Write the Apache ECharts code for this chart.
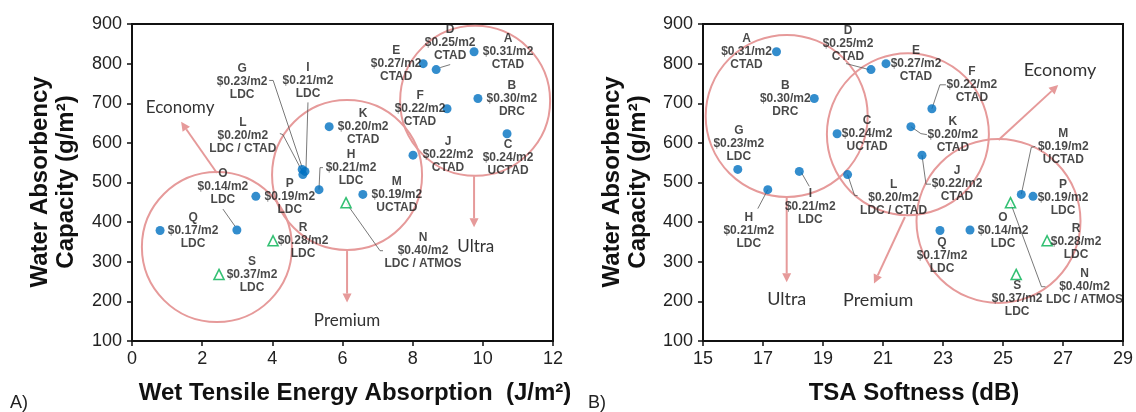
<!DOCTYPE html>
<html>
<head>
<meta charset="utf-8">
<script src="https://cdn.jsdelivr.net/npm/echarts@6/dist/echarts.min.js"></script>
<style>
  html, body { margin: 0; padding: 0; background: #fff; }
  #chart { width: 1136px; height: 412px; }
</style>
</head>
<body>
<div id="chart"></div>
<script>
// Tissue samples: cost, process, water absorbency, wet TEA and TSA softness
const samples     = ['A', 'B', 'C', 'D', 'E', 'F', 'G', 'H', 'I', 'J', 'K', 'L', 'M', 'N', 'O', 'P', 'Q', 'R', 'S'];
const pricePerM2  = [0.31, 0.30, 0.24, 0.25, 0.27, 0.22, 0.23, 0.21, 0.21, 0.22, 0.20, 0.20, 0.19, 0.40, 0.14, 0.19, 0.17, 0.28, 0.37];
const processType = ['CTAD', 'DRC', 'UCTAD', 'CTAD', 'CTAD', 'CTAD', 'LDC', 'LDC', 'LDC', 'CTAD', 'CTAD', 'LDC / CTAD', 'UCTAD', 'LDC / ATMOS', 'LDC', 'LDC', 'LDC', 'LDC', 'LDC'];
const absorbency  = [830, 712, 623, 785, 800, 686, 533, 482, 528, 569, 641, 520, 470, 449, 380, 465, 379, 353, 268];
const wetTEA      = [9.75, 9.86, 10.69, 8.67, 8.30, 8.98, 4.85, 5.33, 4.93, 8.01, 5.62, 4.87, 6.58, 6.10, 2.99, 3.53, 0.80, 4.02, 2.48];
const tsaSoftness = [17.45, 18.71, 19.47, 20.60, 21.10, 22.63, 16.16, 17.16, 18.21, 22.30, 21.93, 19.82, 25.61, 25.25, 23.90, 26.00, 22.90, 26.47, 25.44];
const triangleSamples = ['N', 'R', 'S'];

// Axis ranges
const wetTicks  = { min: 0, max: 12, interval: 2 };
const tsaTicks  = { min: 15, max: 29, interval: 2 };
const absTicks  = { min: 100, max: 900, interval: 100 };

// Label placement (pixel offset of the label's middle line from its marker)
const labelOffsetA = {
  A: [34, 0], B: [34, 0], C: [1, 24], D: [14, -27], E: [-27, 0], F: [-27, 0],
  G: [-60, -88], H: [32, -22], I: [3, -91], J: [35, 0], K: [34, 0], L: [-60, -39],
  M: [34, 0], N: [77, 48], O: [-14, -43], P: [34, 0], Q: [33, 0], R: [30, 0], S: [33, 0]
};
const labelOffsetB = {
  A: [-30, 0], B: [-29, 0], C: [30, 0], D: [-23, -26], E: [30, 0], F: [40, -24],
  G: [1, -26], H: [-19, 41], I: [11, 35], J: [35, 29], K: [42, 8], L: [46, 23],
  M: [42, -48], N: [74, 84], O: [33, 1], P: [30, 1], Q: [2, 25], R: [29, 1], S: [1, 24]
};
// Leader lines (pixel offsets from the marker)
const leadersA = {
  D: [[4, -2], [14, -5]],
  G: [[-33, -89], [-29, -89], [0, -2]],
  H: [[0, 0], [1, -22], [4, -22]],
  I: [[3, -69], [1, -2]],
  L: [[-23, -41], [-20, -40], [0, -2]],
  N: [[0, 0], [34, 48], [37, 48]],
  O: [[-14, -21], [-2, -4]]
};
const leadersB = {
  D: [[-25, -6], [-2, 0]],
  F: [[0, 0], [8, -24], [14, -24]],
  H: [[0, 0], [-10, 19]],
  I: [[2, 1], [10, 15]],
  J: [[0, 0], [4, 29], [9, 29]],
  K: [[0, 0], [10, 7], [16, 8]],
  L: [[0, 0], [7, 21], [10, 21]],
  M: [[0, 0], [10, -47], [14, -48]],
  N: [[0, 0], [31, 84], [35, 84]]
};

// Grouping circles (centre in data units, radius in px) and arrows
const groupsA = [
  { c: [2.42, 337], r: 75 },
  { c: [6.13, 519], r: 75 },
  { c: [9.78, 706], r: 75 }
];
const groupsB = [
  { c: [17.79, 668], r: 81 },
  { c: [21.83, 622], r: 81 },
  { c: [24.85, 403], r: 82 }
];
const arrowsA = [
  { from: [2.42, 524], to: [1.40, 653], text: 'Economy', at: [1.37, 690] },
  { from: [6.13, 327], to: [6.13, 197], text: 'Premium', at: [6.13, 152] },
  { from: [9.75, 516], to: [9.75, 387], text: 'Ultra',   at: [9.80, 339] }
];
const arrowsB = [
  { from: [17.79, 463], to: [17.79, 248], text: 'Ultra',   at: [17.79, 205] },
  { from: [21.73, 413], to: [20.70, 245], text: 'Premium', at: [20.84, 203] },
  { from: [24.85, 607], to: [26.84, 746], text: 'Economy', at: [26.90, 784] }
];

const LABEL_FONT = '"Liberation Sans", Arial, sans-serif';
const NOTE_FONT = 'Lato, "Open Sans", sans-serif';
const BLUE = '#0070c0';
const GREEN = '#00b050';
const PINK = '#e69a9a';

const chart = echarts.init(document.getElementById('chart'), null, { renderer: 'canvas' });

function buildData(xs, offsets, triangles) {
  const out = [];
  samples.forEach((s, i) => {
    const isTri = triangleSamples.includes(s);
    if (isTri !== triangles) return;
    out.push({
      name: s,
      value: [xs[i], absorbency[i]],
      label: { offset: offsets[s] }
    });
  });
  return out;
}

function labelText(p) {
  const i = samples.indexOf(p.name);
  return p.name + '\n$' + pricePerM2[i].toFixed(2) + '/m2\n' + processType[i];
}

const labelStyle = {
  show: true,
  position: 'inside',
  align: 'center',
  verticalAlign: 'middle',
  formatter: labelText,
  fontFamily: LABEL_FONT,
  fontWeight: 'bold',
  fontSize: 12,
  lineHeight: 13,
  color: '#1a1a1a'
};

function xAxisFor(grid, t) {
  return {
    type: 'value', gridIndex: grid, min: t.min, max: t.max, interval: t.interval,
    axisLine: { show: true, lineStyle: { color: '#111', width: 2 } },
    axisTick: { show: true, length: 5, lineStyle: { color: '#111', width: 1.5 } },
    axisLabel: { fontFamily: LABEL_FONT, fontSize: 18, color: '#222', margin: 9 },
    splitLine: { show: false }
  };
}
function yAxisFor(grid) {
  return {
    type: 'value', gridIndex: grid, min: absTicks.min, max: absTicks.max, interval: absTicks.interval,
    axisLine: { show: true, lineStyle: { color: '#111', width: 2 } },
    axisTick: { show: true, length: 5, lineStyle: { color: '#111', width: 1.5 } },
    axisLabel: { fontFamily: LABEL_FONT, fontSize: 18, color: '#222', margin: 10 },
    splitLine: { show: false }
  };
}

function seriesFor(idx, xs, offsets) {
  return [
    {
      type: 'scatter', xAxisIndex: idx, yAxisIndex: idx,
      symbol: 'circle', symbolSize: 9,
      itemStyle: { color: BLUE },
      label: labelStyle,
      data: buildData(xs, offsets, false),
      z: 3
    },
    {
      type: 'scatter', xAxisIndex: idx, yAxisIndex: idx,
      symbol: 'triangle', symbolSize: 10,
      itemStyle: { color: '#fff', borderColor: GREEN, borderWidth: 1.6 },
      label: labelStyle,
      data: buildData(xs, offsets, true),
      z: 3
    }
  ];
}

const gridBox = { show: true, borderColor: '#111', borderWidth: 2, backgroundColor: 'transparent', containLabel: false };

chart.setOption({
  animation: false,
  backgroundColor: '#fff',
  grid: [
    Object.assign({ left: 132, top: 24, width: 421, height: 317 }, gridBox),
    Object.assign({ left: 703, top: 24, width: 422, height: 317 }, gridBox)
  ],
  xAxis: [xAxisFor(0, wetTicks), xAxisFor(1, tsaTicks)],
  yAxis: [yAxisFor(0), yAxisFor(1)],
  series: [].concat(seriesFor(0, wetTEA, labelOffsetA), seriesFor(1, tsaSoftness, labelOffsetB))
});

// Overlays: group circles, arrows, leader lines, axis titles
function toPx(grid, v) { return chart.convertToPixel({ gridIndex: grid }, v); }

function arrow(grid, a, size) {
  const p0 = toPx(grid, a.from), p1 = toPx(grid, a.to);
  const dx = p1[0] - p0[0], dy = p1[1] - p0[1];
  const len = Math.hypot(dx, dy);
  const ux = dx / len, uy = dy / len;
  const bx = p1[0] - ux * 9, by = p1[1] - uy * 9;
  const nx = -uy * 4.5, ny = ux * 4.5;
  const t = toPx(grid, a.at);
  return [
    { type: 'line', silent: true, z: 0, shape: { x1: p0[0], y1: p0[1], x2: bx, y2: by },
      style: { stroke: PINK, lineWidth: 2 } },
    { type: 'polygon', silent: true, z: 0,
      shape: { points: [[p1[0], p1[1]], [bx + nx, by + ny], [bx - nx, by - ny]] },
      style: { fill: PINK } },
    { type: 'text', silent: true, z: 1, x: t[0], y: t[1],
      style: { text: a.text, font: size + 'px ' + NOTE_FONT, fill: '#333', align: 'center', verticalAlign: 'middle' } }
  ];
}

function overlays(grid, xs, groups, arrows, leaders, noteSize) {
  const els = [];
  groups.forEach(g => {
    const c = toPx(grid, g.c);
    els.push({ type: 'circle', silent: true, z: 0, shape: { cx: c[0], cy: c[1], r: g.r },
      style: { fill: 'none', stroke: PINK, lineWidth: 2 } });
  });
  arrows.forEach(a => els.push.apply(els, arrow(grid, a, noteSize)));
  Object.keys(leaders).forEach(s => {
    const i = samples.indexOf(s);
    const p = toPx(grid, [xs[i], absorbency[i]]);
    els.push({ type: 'polyline', silent: true, z: 1,
      shape: { points: leaders[s].map(o => [p[0] + o[0], p[1] + o[1]]) },
      style: { stroke: '#555', lineWidth: 0.8, fill: null } });
  });
  return els;
}

function titleText(x, y, text, rotate) {
  return { type: 'text', silent: true, x: x, y: y, rotation: rotate ? Math.PI / 2 : 0,
    style: { text: text, font: 'bold 24px ' + LABEL_FONT, fill: '#111', align: 'center', verticalAlign: 'middle' } };
}
function panelTag(x, y, text) {
  return { type: 'text', silent: true, x: x, y: y,
    style: { text: text, font: '18px ' + LABEL_FONT, fill: '#222', align: 'left', verticalAlign: 'middle' } };
}

const graphicEls = []
  .concat(overlays(0, wetTEA, groupsA, arrowsA, leadersA, 17))
  .concat(overlays(1, tsaSoftness, groupsB, arrowsB, leadersB, 18))
  .concat([
    titleText(40, 182, 'Water Absorbency', true),
    titleText(66, 182, 'Capacity (g/m²)', true),
    titleText(612, 182, 'Water Absorbency', true),
    titleText(638, 182, 'Capacity (g/m²)', true),
    titleText(355, 393, 'Wet Tensile Energy Absorption  (J/m²)', false),
    titleText(914, 393, 'TSA Softness (dB)', false),
    panelTag(10, 403, 'A)'),
    panelTag(588, 403, 'B)')
  ]);

chart.setOption({ graphic: { elements: graphicEls } });
</script>
</body>
</html>
